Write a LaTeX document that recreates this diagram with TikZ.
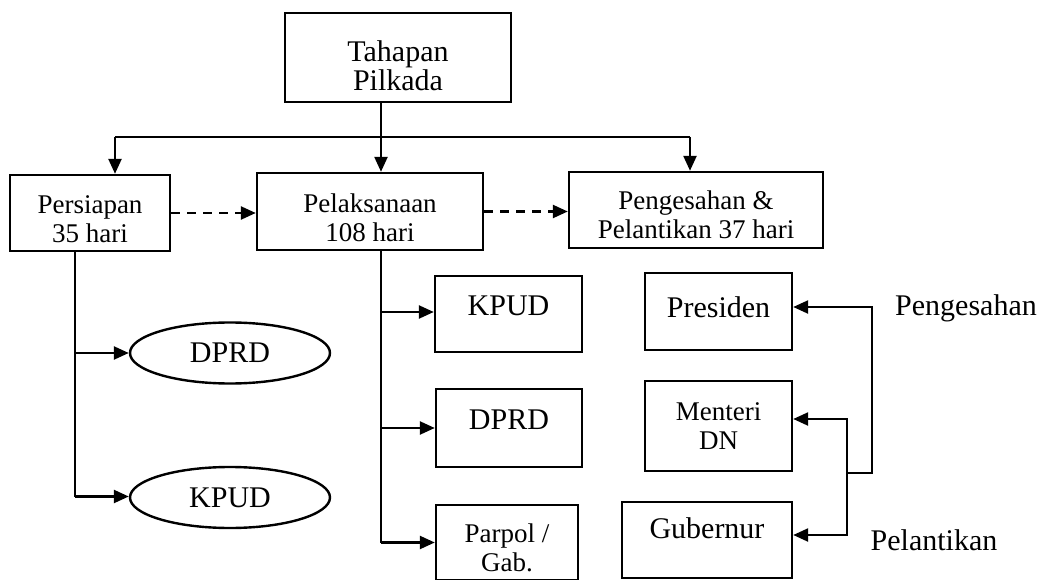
\documentclass[tikz,border=0pt]{standalone}
\usepackage{fontspec}
\setmainfont{Liberation Serif}
\usetikzlibrary{arrows.meta,shapes.geometric}
\newcommand{\lowr}[1]{\rule{0pt}{#1}}
\begin{document}
\begin{tikzpicture}[x=1pt,y=-1pt,
  box/.style={draw,line width=2.4pt,inner sep=0pt,align=center,font=\fontsize{27}{29}\selectfont},
  bigbox/.style={box,font=\fontsize{30}{30}\selectfont},
  oval/.style={draw,ellipse,line width=2.4pt,inner sep=0pt,font=\fontsize{30}{30}\selectfont},
  lbl/.style={inner sep=0pt,font=\fontsize{30}{30}\selectfont},
  ln/.style={line width=2.4pt},
  arr/.style={line width=2.4pt,-{Triangle[length=15pt,width=13pt]}},
  dsh/.style={arr,dash pattern=on 9pt off 7pt}]
\useasboundingbox (0,0) rectangle (1041,580);
% nodes
\node[box,font=\fontsize{30}{29}\selectfont,minimum width=226,minimum height=89] (top) at (398,57.5) {\lowr{38pt}Tahapan\\Pilkada};
\node[box,minimum width=160,minimum height=76] (pers) at (90,213) {\lowr{31pt}Persiapan\\35 hari};
\node[box,minimum width=226,minimum height=77] (pel) at (370,211.5) {\lowr{32pt}Pelaksanaan\\108 hari};
\node[box,minimum width=254,minimum height=76] (pen) at (696,210) {\lowr{28pt}Pengesahan \&\\Pelantikan 37 hari};
\node[oval,minimum width=200,minimum height=61] (e1) at (230,353) {DPRD};
\node[oval,minimum width=200,minimum height=61] (e2) at (230,497.5) {KPUD};
\node[bigbox,minimum width=147,minimum height=76,text depth=16pt] (k) at (508.5,314) {KPUD};
\node[bigbox,minimum width=146,minimum height=78,text depth=16pt] (d) at (509,428) {DPRD};
\node[box,minimum width=142,minimum height=75] (pp) at (507,542.5) {\lowr{29pt}Parpol /\\Gab.};
\node[bigbox,minimum width=147,minimum height=77,text depth=9pt] (pres) at (718.5,311.5) {Presiden};
\node[box,minimum width=147,minimum height=90] (ment) at (718.5,426) {Menteri\\DN};
\node[bigbox,minimum width=170,minimum height=76,text depth=24pt] (gub) at (707,540) {Gubernur};
\node[lbl] (lpen) at (966,308) {Pengesahan};
\node[lbl] (lpel) at (934,540) {Pelantikan};
% coordinates
\coordinate (bx) at (381,0);
\coordinate (ps) at (75,0);
\coordinate (hl) at (115,137);
\coordinate (hr) at (690,137);
\coordinate (j) at (847,473);
\coordinate (jr) at (872,473);
% top connectors
\draw[arr] (top.south -| bx) -- (pel.north -| bx);
\draw[ln] (hl) -- (hr);
\draw[arr] (hl) -- (pers.north -| hl);
\draw[arr] (hr) -- (pen.north -| hr);
% dashed
\draw[dsh] (pers.east) -- (pers.east -| pel.west);
\draw[dsh] (pel.east) -- (pel.east -| pen.west);
% persiapan trunk
\draw[ln] (pers.south -| ps) -- ([yshift=1pt]e2.west -| ps);
\draw[arr] (e1.west -| ps) -- (e1.west);
\draw[arr] ([yshift=1pt]e2.west -| ps) -- ([yshift=1pt]e2.west);
% pelaksanaan trunk
\draw[ln] (pel.south -| bx) -- (pp.west -| bx);
\draw[arr] ([yshift=2pt]k.west -| bx) -- ([yshift=2pt]k.west);
\draw[arr] (d.west -| bx) -- (d.west);
\draw[arr] (pp.west -| bx) -- (pp.west);
% right side
\draw[arr] (j) -- (jr) |- ([yshift=4.5pt]pres.east);
\draw[arr] (j) |- ([yshift=7pt]ment.east);
\draw[arr] (j) |- ([yshift=5pt]gub.east);
\end{tikzpicture}
\end{document}
